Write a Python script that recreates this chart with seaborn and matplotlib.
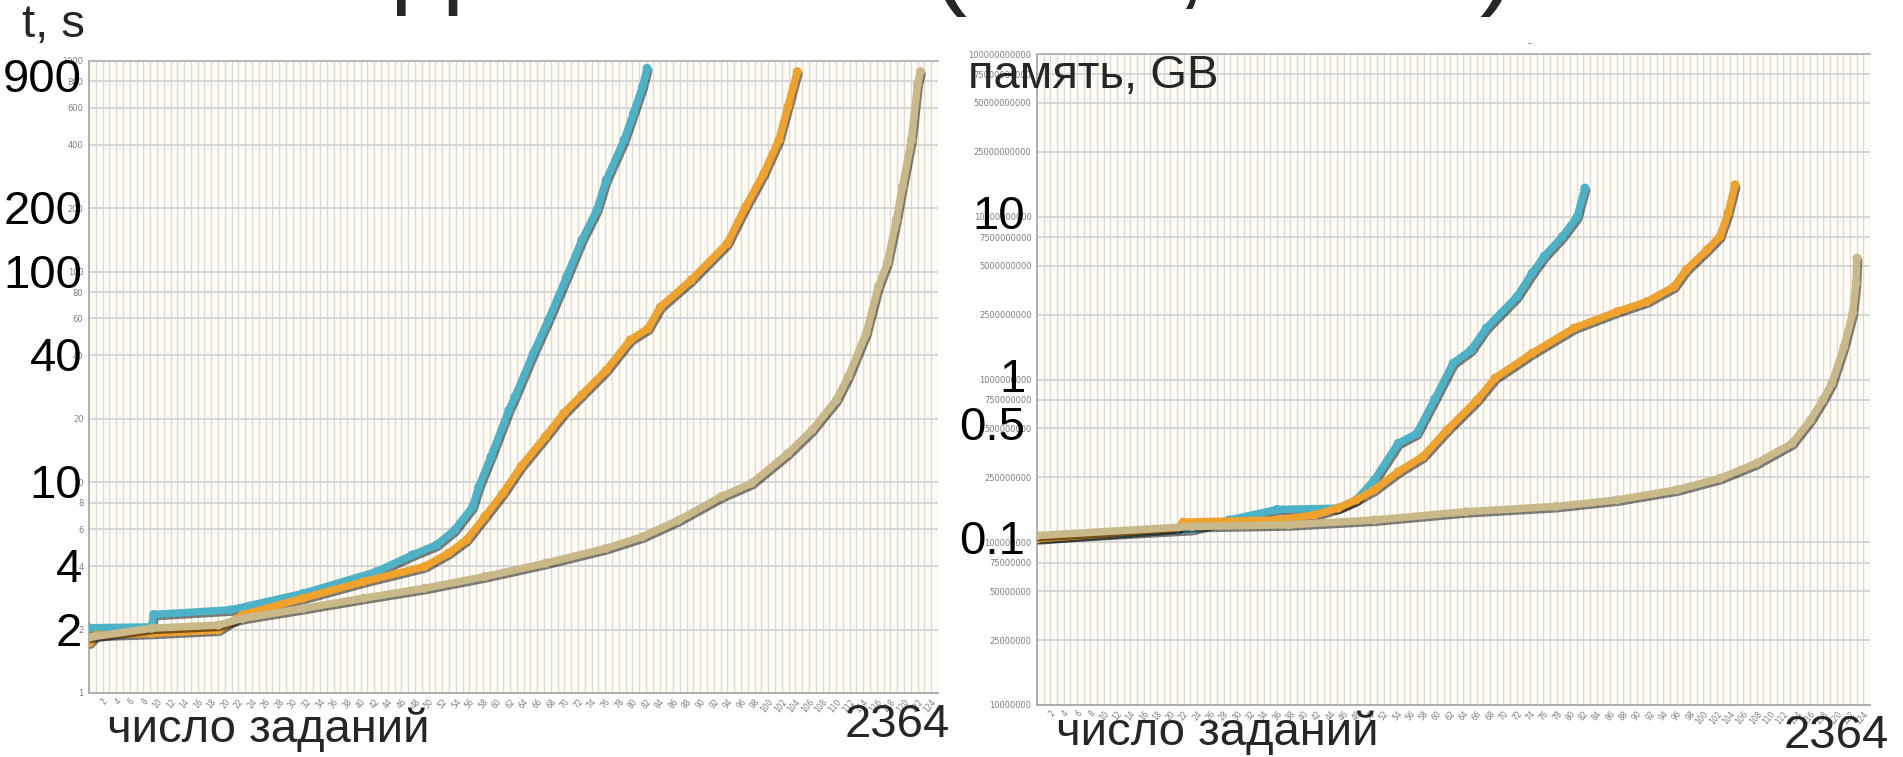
import numpy as np
import pandas as pd
import matplotlib
matplotlib.use("Agg")
import matplotlib.pyplot as plt
import matplotlib.patheffects as pe
from matplotlib.transforms import blended_transform_factory
import seaborn as sns

# ---------------- data ----------------
series_names = ["серия 1", "серия 2", "серия 3"]
series_colors = ["#4BB2C7", "#EFA22C", "#C9B888"]

time_blue_x = [1, 174, 180, 393, 596, 799, 900, 967, 1018, 1068, 1085, 1119, 1169, 1186, 1237,
               1279, 1330, 1372, 1414, 1440, 1490, 1516, 1541, 1554]
time_blue_y = [2.04, 2.06, 2.36, 2.48, 2.97, 3.76, 4.52, 5.04, 5.94, 7.66, 9.5, 13.2, 22, 25.5, 41,
               59, 94.6, 141, 196, 272, 422, 565, 755, 922]

time_orange_x = [1, 20, 174, 360, 427, 596, 765, 934, 1001, 1051, 1102, 1153, 1203, 1271, 1322,
                 1372, 1440, 1507, 1557, 1591, 1676, 1777, 1828, 1879, 1921, 1946, 1972]
time_orange_y = [1.73, 1.88, 1.92, 1.99, 2.35, 2.82, 3.38, 3.98, 4.61, 5.33, 6.87, 8.9, 11.9, 16.5, 21.3,
                 26, 34, 47.4, 53.8, 68, 91, 136, 203, 293, 422, 607, 890]

time_tan_x = [1, 174, 360, 427, 596, 765, 934, 1102, 1271, 1440, 1541, 1642, 1760, 1845, 1946,
              2013, 2081, 2114, 2164, 2198, 2223, 2248, 2265, 2290, 2307, 2315]
time_tan_y = [1.84, 2.03, 2.10, 2.26, 2.52, 2.82, 3.14, 3.57, 4.13, 4.86, 5.52, 6.62, 8.55, 9.9, 13.7,
              17.7, 24.6, 31.7, 51, 85, 110, 176, 253, 422, 775, 890]

mem_blue_x = [1, 440, 545, 681, 854, 906, 957, 1025, 1078, 1129, 1181, 1232, 1275, 1362, 1405,
              1439, 1491, 1533, 1555]
mem_blue_y = [1.06e8, 1.2e8, 1.37e8, 1.59e8, 1.62e8, 1.82e8, 2.41e8, 4.05e8, 4.67e8, 7.6e8, 1.26e9,
              1.52e9, 2.07e9, 3.23e9, 4.5e9, 5.7e9, 7.55e9, 1.0e10, 1.5e10]

mem_orange_x = [1, 400, 415, 681, 787, 854, 906, 957, 1025, 1095, 1164, 1249, 1300, 1405, 1524,
                1646, 1731, 1808, 1842, 1901, 1938, 1961, 1981]
mem_orange_y = [1.05e8, 1.22e8, 1.33e8, 1.37e8, 1.47e8, 1.62e8, 1.82e8, 2.1e8, 2.71e8, 3.36e8, 4.9e8,
                7.48e8, 1.02e9, 1.45e9, 2.07e9, 2.61e9, 3.01e9, 3.72e9, 4.71e9, 6.25e9, 7.55e9,
                1.05e10, 1.57e10]

mem_tan_x = [1, 440, 715, 957, 1215, 1473, 1646, 1816, 1938, 2041, 2143, 2195, 2230, 2256, 2290,
             2315, 2324, 2327]
mem_tan_y = [1.1e8, 1.25e8, 1.28e8, 1.37e8, 1.54e8, 1.66e8, 1.82e8, 2.1e8, 2.47e8, 3.05e8, 4.05e8,
             5.63e8, 7.48e8, 9.5e8, 1.59e9, 2.56e9, 3.92e9, 5.57e9]

n_tasks = 2364
x_cat_labels = [str(k) for k in range(2, 125, 2)]

time_ticks = [1, 2, 4, 6, 8, 10, 20, 40, 60, 80, 100, 200, 400, 600, 800, 1000]
time_big_labels = ["900", "200", "100", "40", "10", "4", "2"]
time_big_values = [850, 200, 100, 40, 10, 4, 2]

mem_ticks = [1e7, 2.5e7, 5e7, 7.5e7, 1e8, 2.5e8, 5e8, 7.5e8, 1e9, 2.5e9, 5e9, 7.5e9,
             1e10, 2.5e10, 5e10, 7.5e10, 1e11]
mem_big_labels = ["10", "1", "0.5", "0.1"]
mem_big_values = [1e10, 1e9, 5e8, 1e8]

# ---------------- style ----------------
sns.set_style("white")
plt.rcParams["font.family"] = ["Liberation Sans", "DejaVu Sans"]

BG = "#FDFBF2"
GRID_H = "#D6D6D6"
GRID_V = "#DADADA"
SPINE = "#A8A8A8"
TICKC = "#7F7F7F"

fig = plt.figure(figsize=(19.03, 7.57), dpi=100)
fig.patch.set_facecolor("white")

W, H = 1903.0, 757.0
def axrect(l, t, r, b):
    return [l / W, 1 - b / H, (r - l) / W, (b - t) / H]

ax1 = fig.add_axes(axrect(89, 61, 938, 693))
ax2 = fig.add_axes(axrect(1037, 54, 1870, 705))


def make_df(xs, ys):
    rows = []
    for name, x, y in zip(series_names, xs, ys):
        rows.append(pd.DataFrame({"x": x, "y": y, "series": name}))
    return pd.concat(rows, ignore_index=True)


df_time = make_df([time_blue_x, time_orange_x, time_tan_x], [time_blue_y, time_orange_y, time_tan_y])
df_mem = make_df([mem_blue_x, mem_orange_x, mem_tan_x], [mem_blue_y, mem_orange_y, mem_tan_y])

shadow = [pe.SimpleLineShadow(offset=(1.2, -1.6), shadow_color="black", alpha=0.5), pe.Normal()]


def style_axes(ax, ticks, ticklabels, ylim):
    ax.set_facecolor(BG)
    ax.set_yscale("log")
    ax.set_ylim(*ylim)
    ax.set_xlim(0, n_tasks)
    ax.set_yticks(ticks)
    ax.set_yticklabels(ticklabels)
    ax.yaxis.set_minor_locator(matplotlib.ticker.NullLocator())
    step = n_tasks / 125.0
    vx = [k * step for k in range(1, 126)]
    for v in vx:
        ax.axvline(v, color=GRID_V, lw=0.9, zorder=0)
    for t in ticks:
        ax.axhline(t, color=GRID_H, lw=1.4, zorder=0.5)
    lab_pos = [k * step for k in range(2, 125, 2)]
    ax.set_xticks(lab_pos)
    ax.set_xticklabels(x_cat_labels, rotation=50, ha="right", rotation_mode="anchor",
                       fontsize=5.5, color=TICKC, family="DejaVu Sans")
    ax.tick_params(axis="y", labelsize=6, labelcolor=TICKC, length=3, color=SPINE, pad=1)
    ax.tick_params(axis="x", length=2, color=SPINE, pad=1)
    for lab in ax.get_yticklabels():
        lab.set_family("DejaVu Sans")
    ax.spines["right"].set_visible(False)
    ax.spines["top"].set_color("#B8B8B8")
    ax.spines["top"].set_linewidth(1.4)
    for s in ["left", "bottom"]:
        ax.spines[s].set_color(SPINE)
        ax.spines[s].set_linewidth(1.3)
    ax.set_xlabel("")
    ax.set_ylabel("")


for ax, df in [(ax1, df_time), (ax2, df_mem)]:
    sns.lineplot(data=df, x="x", y="y", hue="series", hue_order=series_names,
                 palette=series_colors, estimator=None, sort=True, ax=ax, legend=False,
                 lw=5.4, marker="o", markersize=6.5, markeredgewidth=0,
                 path_effects=shadow, zorder=3)

style_axes(ax1, time_ticks, [str(t) for t in time_ticks], (1, 1000))
style_axes(ax2, mem_ticks, [str(int(t)) for t in mem_ticks], (1e7, 1e11))

# ---------------- overlay texts ----------------
BIG = 34
tr1 = blended_transform_factory(ax1.transAxes, ax1.transData)
for lab, v in zip(time_big_labels, time_big_values):
    ax1.annotate(lab, xy=(-0.008, v), xycoords=tr1, xytext=(0, -16), textcoords="offset pixels",
                 ha="right", va="baseline", fontsize=BIG, color="black", annotation_clip=False)

tr2 = blended_transform_factory(ax2.transAxes, ax2.transData)
for lab, v in zip(mem_big_labels, mem_big_values):
    ax2.annotate(lab, xy=(-0.014, v), xycoords=tr2, xytext=(0, -12), textcoords="offset pixels",
                 ha="right", va="baseline", fontsize=BIG, color="black", annotation_clip=False)

def px(x, y):
    return x / W, 1 - y / H

fig.text(*px(54, 37), "t, s", fontsize=BIG, ha="center", va="baseline")
fig.text(*px(968, 88), "память, GB", fontsize=BIG, ha="left", va="baseline")
fig.text(*px(107, 742), "число заданий", fontsize=BIG, ha="left", va="baseline")
fig.text(*px(1056, 745), "число заданий", fontsize=BIG, ha="left", va="baseline")
fig.text(*px(950, 737), "2364", fontsize=BIG, ha="right", va="baseline")
fig.text(*px(1889, 748), "2364", fontsize=BIG, ha="right", va="baseline")
fig.text(*px(1529, 46), "-", fontsize=8, color="#606060", ha="center", va="baseline")

# clipped slide title fragments (only descenders visible)
for ch, xc in [("д", 428), ("(", 948), (",", 1190), (")", 1497)]:
    fig.text(*px(xc, -5), ch, fontsize=78, ha="center", va="baseline")

fig.savefig("out.png", dpi=100, facecolor="white")
